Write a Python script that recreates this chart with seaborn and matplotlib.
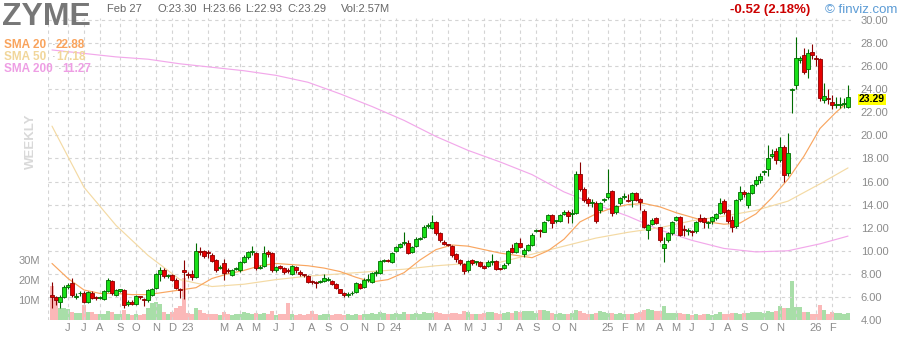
import numpy as np
import pandas as pd
import matplotlib
matplotlib.use("Agg")
import matplotlib.pyplot as plt
import seaborn as sns
from matplotlib.transforms import blended_transform_factory

# ---------------- data (weekly bars, first bar = week of 2022-05-02) ----------------
OPEN = [6.2, 6.0, 5.6, 6.0, 6.9, 7.2, 6.0, 6.3, 6.35, 5.6,
        6.3, 6.0, 5.9, 5.8, 6.5, 7.4, 6.2, 6.55, 6.6, 5.35,
        5.6, 5.4, 6.05, 5.8, 5.7, 6.2, 6.8, 8.0, 8.3, 7.8,
        7.9, 7.5, 6.7, 8.3, 8.0, 7.95, 7.7, 10.0, 10.0, 9.85,
        9.6, 9.2, 8.5, 8.9, 8.35, 7.9, 8.4, 8.3, 9.0, 9.5,
        9.85, 9.8, 8.5, 8.7, 9.85, 9.8, 8.3, 8.7, 8.5, 8.35,
        8.0, 8.6, 8.2, 7.95, 7.8, 7.35, 7.3, 7.3, 7.4, 7.5,
        7.4, 7.1, 6.65, 6.35, 6.2, 6.3, 6.4, 7.1, 6.9, 7.45,
        7.3, 8.1, 8.1, 9.15, 9.2, 9.0, 10.0, 10.3, 10.7, 10.7,
        9.9, 10.4, 11.05, 11.2, 12.15, 12.0, 12.5, 11.5, 10.8, 10.55,
        10.45, 9.7, 9.2, 8.85, 8.3, 9.2, 9.0, 9.0, 8.7, 8.7,
        9.0, 9.1, 8.45, 8.5, 8.9, 10.2, 9.9, 10.7, 9.7, 10.1,
        10.5, 11.7, 11.75, 11.65, 12.7, 13.1, 12.55, 12.6, 13.2, 13.4,
        13.15, 13.3, 16.65, 15.35, 14.5, 14.1, 14.1, 13.5, 14.4, 14.65,
        15.2, 13.4, 14.1, 14.65, 14.35, 14.4, 15.0, 14.5, 13.45, 11.8,
        12.3, 12.85, 12.05, 10.2, 10.9, 11.5, 12.7, 12.95, 11.85, 11.7,
        11.7, 11.7, 12.8, 12.8, 12.4, 12.6, 12.8, 13.3, 14.3, 13.5,
        12.65, 12.15, 14.5, 15.1, 14.0, 15.0, 15.8, 16.1, 16.8, 17.1,
        18.2, 18.65, 17.85, 19.0, 16.7, 23.95, 24.4, 26.5, 27.0, 25.75,
        27.2, 26.65, 26.6, 23.1, 23.2, 22.9, 22.6, 22.65, 22.7, 22.5]
HIGH = [7.3, 6.1, 6.2, 7.0, 7.2, 7.6, 6.3, 6.5, 6.5, 6.5,
        6.5, 6.1, 6.1, 6.6, 7.6, 7.5, 6.7, 6.7, 6.7, 5.7,
        5.7, 6.2, 6.1, 5.9, 6.7, 6.8, 8.1, 8.6, 8.5, 8.0,
        8.0, 7.6, 6.8, 9.2, 8.2, 8.3, 10.7, 10.3, 10.1, 10.1,
        9.8, 9.3, 8.8, 9.3, 8.5, 8.4, 8.6, 9.1, 9.6, 10.0,
        10.4, 9.9, 8.8, 10.4, 10.1, 9.9, 8.7, 8.8, 8.6, 8.5,
        8.8, 8.7, 8.3, 8.0, 7.9, 7.5, 7.4, 7.5, 8.0, 7.7,
        7.5, 7.2, 6.7, 6.4, 6.4, 6.5, 7.3, 7.2, 7.6, 8.0,
        8.2, 8.3, 9.2, 9.3, 9.3, 9.9, 10.4, 10.7, 11.65, 10.9,
        10.4, 11.2, 11.2, 12.2, 12.4, 13.1, 12.6, 11.6, 10.9, 10.6,
        10.5, 9.8, 9.3, 8.9, 9.2, 9.3, 9.1, 9.1, 8.8, 9.2,
        9.7, 9.2, 8.5, 8.9, 10.1, 10.6, 10.8, 11.1, 10.2, 10.6,
        11.5, 11.9, 11.9, 12.6, 13.2, 13.2, 12.7, 13.2, 13.5, 13.5,
        13.6, 16.95, 17.7, 15.5, 14.7, 14.5, 14.3, 14.2, 14.6, 17.1,
        15.3, 14.0, 14.7, 15.0, 14.9, 15.1, 15.1, 14.6, 13.6, 12.3,
        12.8, 12.9, 12.1, 11.2, 11.6, 12.6, 13.0, 13.0, 12.2, 12.0,
        11.8, 12.6, 13.2, 12.9, 12.6, 13.0, 13.3, 14.6, 14.5, 13.6,
        13.0, 14.5, 15.6, 15.3, 15.1, 15.8, 16.5, 16.7, 17.0, 19.2,
        18.8, 18.9, 19.9, 19.2, 20.2, 24.1, 28.5, 26.9, 27.6, 27.5,
        27.9, 27.0, 26.7, 24.5, 24.0, 23.5, 23.3, 23.3, 23.2, 24.4]
LOW = [5.0, 5.3, 5.0, 5.9, 6.7, 6.0, 5.8, 6.1, 5.5, 5.5,
       5.8, 5.7, 5.8, 5.7, 6.4, 6.2, 6.1, 6.4, 5.0, 5.2,
       5.3, 5.3, 5.8, 5.2, 5.6, 6.1, 6.7, 7.4, 7.6, 7.6,
       7.4, 6.7, 5.9, 5.8, 7.6, 7.5, 7.6, 9.6, 9.4, 9.4,
       9.0, 8.2, 8.4, 7.5, 8.1, 7.8, 8.3, 8.2, 8.9, 9.3,
       9.6, 8.3, 8.4, 8.6, 9.5, 8.2, 8.2, 8.4, 8.0, 8.1,
       7.9, 8.1, 7.8, 7.7, 7.2, 7.1, 6.8, 7.2, 7.3, 7.4,
       7.0, 6.7, 6.3, 6.0, 6.0, 6.2, 6.3, 6.7, 6.8, 7.3,
       7.2, 7.8, 8.0, 9.0, 9.0, 8.9, 9.9, 10.2, 10.5, 9.7,
       9.8, 10.3, 10.9, 11.1, 12.0, 11.9, 11.4, 10.8, 10.5, 10.4,
       9.5, 9.0, 8.8, 8.0, 8.2, 8.8, 8.8, 8.6, 8.4, 8.6,
       8.8, 8.3, 8.3, 8.4, 8.8, 9.8, 9.8, 10.2, 9.5, 10.0,
       10.4, 11.6, 11.2, 11.6, 12.6, 12.0, 12.4, 12.5, 13.1, 12.4,
       12.4, 13.2, 15.2, 14.2, 13.9, 13.8, 12.4, 13.3, 14.2, 14.5,
       13.0, 13.2, 14.0, 14.5, 14.2, 13.8, 14.3, 13.5, 12.0, 11.0,
       12.2, 12.3, 10.8, 9.0, 10.8, 11.4, 12.6, 11.3, 11.3, 11.4,
       11.3, 11.5, 12.5, 12.0, 12.0, 12.3, 12.7, 13.2, 13.2, 12.4,
       11.6, 12.0, 14.3, 14.7, 13.7, 14.9, 15.6, 15.9, 16.6, 16.5,
       18.0, 17.5, 17.7, 16.0, 16.5, 21.9, 24.0, 26.3, 25.3, 25.0,
       26.6, 26.0, 23.0, 22.8, 22.7, 22.3, 22.4, 22.4, 22.4, 22.4]
CLOSE = [6.0, 5.7, 6.0, 6.9, 7.05, 6.2, 6.1, 6.3, 5.6, 6.4,
         5.9, 5.9, 6.0, 6.5, 7.5, 6.35, 6.6, 6.65, 5.3, 5.6,
         5.4, 6.1, 5.95, 5.7, 6.6, 6.7, 8.0, 8.3, 7.8, 7.85,
         7.5, 6.8, 6.6, 8.15, 7.9, 7.7, 10.0, 9.9, 9.55, 9.8,
         9.1, 8.3, 8.6, 8.1, 8.25, 8.3, 8.5, 9.0, 9.5, 9.9,
         9.95, 8.5, 8.6, 9.8, 9.75, 8.3, 8.6, 8.5, 8.2, 8.25,
         8.7, 8.3, 8.0, 7.9, 7.3, 7.3, 7.2, 7.4, 7.6, 7.55,
         7.1, 6.8, 6.35, 6.2, 6.25, 6.35, 7.2, 6.8, 7.5, 7.5,
         8.1, 8.15, 9.1, 9.2, 9.15, 9.8, 10.3, 10.6, 10.8, 9.8,
         10.3, 11.0, 11.1, 12.1, 12.2, 12.5, 11.5, 10.9, 10.6, 10.5,
         9.65, 9.3, 8.9, 8.25, 9.1, 8.9, 9.0, 8.7, 8.5, 9.0,
         9.05, 8.4, 8.4, 8.8, 10.0, 9.9, 10.7, 10.3, 10.1, 10.5,
         11.4, 11.75, 11.7, 12.5, 13.1, 12.4, 12.6, 13.1, 13.4, 13.0,
         13.2, 16.65, 15.35, 14.4, 14.1, 14.2, 12.6, 14.1, 14.45, 15.0,
         13.3, 13.9, 14.6, 14.7, 14.3, 15.0, 14.4, 14.2, 12.1, 12.2,
         12.7, 12.4, 10.95, 10.6, 11.5, 12.5, 12.9, 11.4, 11.8, 11.75,
         11.6, 12.5, 12.6, 12.5, 12.45, 12.9, 13.2, 14.1, 13.35, 12.6,
         12.05, 14.4, 15.1, 14.9, 15.0, 15.7, 16.1, 16.5, 16.85, 18.0,
         18.4, 17.85, 19.0, 16.6, 18.5, 24.05, 26.7, 26.7, 25.5, 27.15,
         27.0, 26.6, 23.2, 23.4, 23.15, 22.6, 22.6, 22.7, 22.7, 23.29]
VOLUME_M = [17, 10, 6, 6, 5.5, 4, 3.5, 3.5, 7.5, 4,
            4, 3, 3, 3, 4.5, 4, 3, 3, 5, 3,
            2.5, 3, 2.5, 3, 6, 8.5, 9, 8, 4, 3,
            4, 6, 7, 21, 3.5, 3, 6, 5, 3.5, 3,
            3, 3, 2.5, 4, 3, 2.5, 3, 3, 4, 3.5,
            3, 3.5, 3, 3.5, 3, 4.5, 2.5, 3, 3, 8.5,
            3, 2.5, 3, 2.5, 3, 4.5, 3, 2.5, 3, 3,
            2.5, 3, 3, 2.5, 3, 2.5, 3, 2.5, 3, 3,
            3.5, 3, 4, 3.5, 3, 3, 3.5, 3, 4, 3,
            3, 3.5, 3, 4, 3.5, 3.5, 4, 3.5, 3, 3,
            3.5, 3.5, 3, 4.5, 4, 3, 3, 3, 3.5, 4,
            4, 3.5, 3, 3.5, 4, 3.5, 4.5, 4, 4.5, 4.5,
            4.5, 3.5, 5, 5, 4.5, 3.5, 3, 3.5, 3, 3,
            3.5, 5, 4.5, 3.5, 3, 3, 3.5, 4.5, 4, 3.5,
            3.5, 3, 3.5, 3, 3, 3, 3.5, 4, 5, 5.5,
            5, 4.5, 4.5, 7, 3.5, 3.5, 3.5, 3.5, 3, 3,
            2.5, 3, 2.5, 3, 3, 2.5, 3, 4, 3, 3,
            3.5, 3.5, 3, 3.5, 3.5, 4, 4, 4, 3.5, 4.5,
            4, 4.5, 7, 6, 6, 19.5, 6.5, 6.5, 4, 4,
            3, 3, 7.5, 5, 3, 4, 3.5, 3.5, 3, 3.5]

SMA20_WEEK = [0, 4, 8, 12, 16, 20, 24, 28, 32, 36, 40, 44, 48, 52, 56, 60, 64, 68,
              72, 76, 80, 84, 88, 92, 96, 100, 104, 108, 112, 116, 120, 124, 128,
              132, 136, 140, 144, 148, 152, 156, 160, 164, 168, 172, 176, 180, 184,
              188, 192, 196, 199]
SMA20 = [8.9, 7.6, 6.6, 6.3, 6.3, 6.2, 6.2, 6.4, 6.6, 6.8, 7.6, 8.0, 8.3, 8.7, 8.9,
         8.8, 8.7, 8.5, 8.2, 7.7, 7.3, 7.5, 8.1, 9.2, 10.1, 10.5, 10.4, 10.1, 9.8,
         9.6, 9.4, 10.0, 11.0, 12.5, 13.2, 13.7, 14.0, 14.1, 13.8, 13.3, 12.9, 12.5,
         12.3, 12.4, 13.2, 14.6, 16.2, 18.2, 20.6, 22.0, 22.88]
SMA_LONG_WEEK = [0, 8, 16, 24, 32, 40, 48, 56, 64, 72, 80, 88, 96, 104, 112, 120,
                 128, 136, 144, 152, 160, 168, 176, 184, 192, 199]
SMA50 = [20.8, 15.5, 12.2, 9.6, 7.5, 6.9, 7.1, 7.5, 7.8, 8.0, 8.2, 8.4, 8.7, 8.9,
         9.0, 9.7, 10.4, 11.1, 11.6, 12.0, 12.6, 13.0, 13.5, 14.3, 15.8, 17.18]
SMA200 = [27.4, 27.1, 26.8, 26.6, 26.2, 25.9, 25.6, 25.2, 24.6, 23.6, 22.5, 21.3,
          19.9, 18.7, 17.7, 16.6, 15.1, 14.0, 13.0, 11.8, 10.9, 10.2, 9.9, 10.0,
          10.6, 11.27]

MONTH_LABELS = ['', 'J', 'J', 'A', 'S', 'O', 'N', 'D',
                '23', '', 'M', 'A', 'M', 'J', 'J', 'A', 'S', 'O', 'N', 'D',
                '24', '', 'M', 'A', 'M', 'J', 'J', 'A', 'S', 'O', 'N', '',
                '25', 'F', 'M', 'A', 'M', 'J', 'J', 'A', 'S', 'O', 'N', '',
                '26', 'F']
PRICE_TICKS = [4, 6, 8, 10, 12, 14, 16, 18, 20, 22, 24, 26, 28, 30]
VOL_TICKS = [10, 20, 30]

# ---------------- styling ----------------
sns.set_style("white")
plt.rcParams['font.family'] = ['Liberation Sans', 'DejaVu Sans']

G_FILL, G_EDGE = '#18e018', '#006b00'
R_FILL, R_EDGE = '#e60000', '#8a0000'
V_G, V_R = '#a8dea8', '#fbb8b8'
GRID = '#d4d4d4'
LABEL = '#8c8c8c'

n = len(CLOSE)
idx = np.arange(n)
o = np.array(OPEN); h = np.array(HIGH); l = np.array(LOW); c = np.array(CLOSE)
up = c >= o

fig = plt.figure(figsize=(9, 3.4), dpi=100)
rect = [48 / 900, 20 / 340, 803 / 900, 302 / 340]
ax_v = fig.add_axes(rect)
ax = fig.add_axes(rect)
ax.patch.set_alpha(0)

for a in (ax_v, ax):
    a.set_xlim(-1, n - 0.25)
    for s in a.spines.values():
        s.set_visible(False)

# volume
ax_v.bar(idx, VOLUME_M, width=1.0, color=np.where(up, V_G, V_R), linewidth=0, zorder=1)
ax_v.set_ylim(0, 151)
ax_v.set_yticks(VOL_TICKS)
ax_v.set_yticklabels([f'{v}M' for v in VOL_TICKS])
ax_v.tick_params(axis='y', length=0, pad=6, labelsize=8, labelcolor=LABEL)
ax_v.set_xticks([])
ax_v.grid(False)

# price axes
ax.set_ylim(4, 30.17)
ax.yaxis.tick_right()
ax.set_yticks(PRICE_TICKS)
ax.set_yticklabels([f'{v:.2f}' for v in PRICE_TICKS])
ax.tick_params(axis='y', length=0, pad=7, labelsize=8, labelcolor=LABEL)

dates = pd.date_range('2022-05-02', periods=n, freq='7D')
months = dates.to_period('M')
starts = [i for i in range(n) if i == 0 or months[i] != months[i - 1]]
ax.set_xticks(np.array(starts) - 1.0)
ax.set_xticklabels(MONTH_LABELS[:len(starts)])
ax.tick_params(axis='x', length=0, pad=2.5, labelsize=8, labelcolor=LABEL)
ax.grid(True, color=GRID, linestyle=(0, (3, 3)), linewidth=0.8, zorder=0)
ax.set_axisbelow(True)

# moving averages
sns.lineplot(x=SMA_LONG_WEEK, y=SMA200, ax=ax, color='#f2a8ea', linewidth=0.85, zorder=2)
sns.lineplot(x=SMA_LONG_WEEK, y=SMA50, ax=ax, color='#f4daa4', linewidth=0.85, zorder=2)
sns.lineplot(x=SMA20_WEEK, y=SMA20, ax=ax, color='#f9a660', linewidth=0.85, zorder=2)

# candles
ax.vlines(idx, l, h, colors=np.where(up, G_EDGE, R_EDGE), linewidth=0.8, zorder=3)
body_bottom = np.minimum(o, c)
body_h = np.maximum(np.abs(c - o), 0.08)
ax.bar(idx, body_h, bottom=body_bottom, width=0.8,
       color=np.where(up, G_FILL, R_FILL), edgecolor=np.where(up, G_EDGE, R_EDGE),
       linewidth=0.6, zorder=4)
ax.set_xlim(-1, n - 0.25)
ax.set_ylim(4, 30.17)
ax.set_xlabel('')
ax.set_ylabel('')

# last price badge
trans = blended_transform_factory(ax.transAxes, ax.transData)
ax.text(1 + 8 / 803, CLOSE[-1] - 0.18, f'{CLOSE[-1]:.2f}', transform=trans, ha='left', va='center',
        fontsize=7.5, fontweight='bold', color='black', zorder=10, clip_on=False,
        bbox=dict(boxstyle='square,pad=0.06', facecolor='#ffff00', edgecolor='none'))

# header texts
def P(x, y):
    return x / 900, 1 - y / 340

HDR = '#666666'
fig.text(*P(2, 25), 'ZYME', fontsize=23, fontweight='bold', color='#777777', va='baseline')
fig.text(*P(107, 12), 'Feb 27', fontsize=8, color=HDR, va='baseline')
fig.text(*P(158, 12), 'O:23.30', fontsize=8, color=HDR, va='baseline')
fig.text(*P(202, 12), 'H:23.66', fontsize=8, color=HDR, va='baseline')
fig.text(*P(245, 12), 'L:22.93', fontsize=8, color=HDR, va='baseline')
fig.text(*P(287, 12), 'C:23.29', fontsize=8, color=HDR, va='baseline')
fig.text(*P(341, 12), 'Vol:2.57M', fontsize=8, color=HDR, va='baseline')
fig.text(*P(730, 13), '-0.52 (2.18%)', fontsize=9.5, fontweight='bold', color='#cc0000', va='baseline')
fig.text(*P(825, 13), '\u00a9 finviz.com', fontsize=9.5, color='#5b9bd5', va='baseline')

legend = [('SMA 20', SMA20[-1], '#f9a35c', 48, 52, 56),
          ('SMA 50', SMA50[-1], '#f1d69a', 60, 52, 56),
          ('SMA 200', SMA200[-1], '#ee9ee4', 72, 58, 62)]
for name, val, col, yb, xd, xv in legend:
    fig.text(*P(4, yb), name, fontsize=8.5, fontweight='bold', color=col, va='baseline')
    fig.text(*P(xd, yb), '\u00b7', fontsize=8, color='#999999', va='baseline')
    fig.text(*P(xv, yb), f'{val:.2f}', fontsize=8.5, fontweight='bold', color=col, va='baseline')

fig.text(*P(31, 141), 'WEEKLY', rotation=90, ha='center', va='center', fontsize=9.5,
         fontweight='bold', color='#d9d9d9')

fig.savefig('out.png', dpi=100)
